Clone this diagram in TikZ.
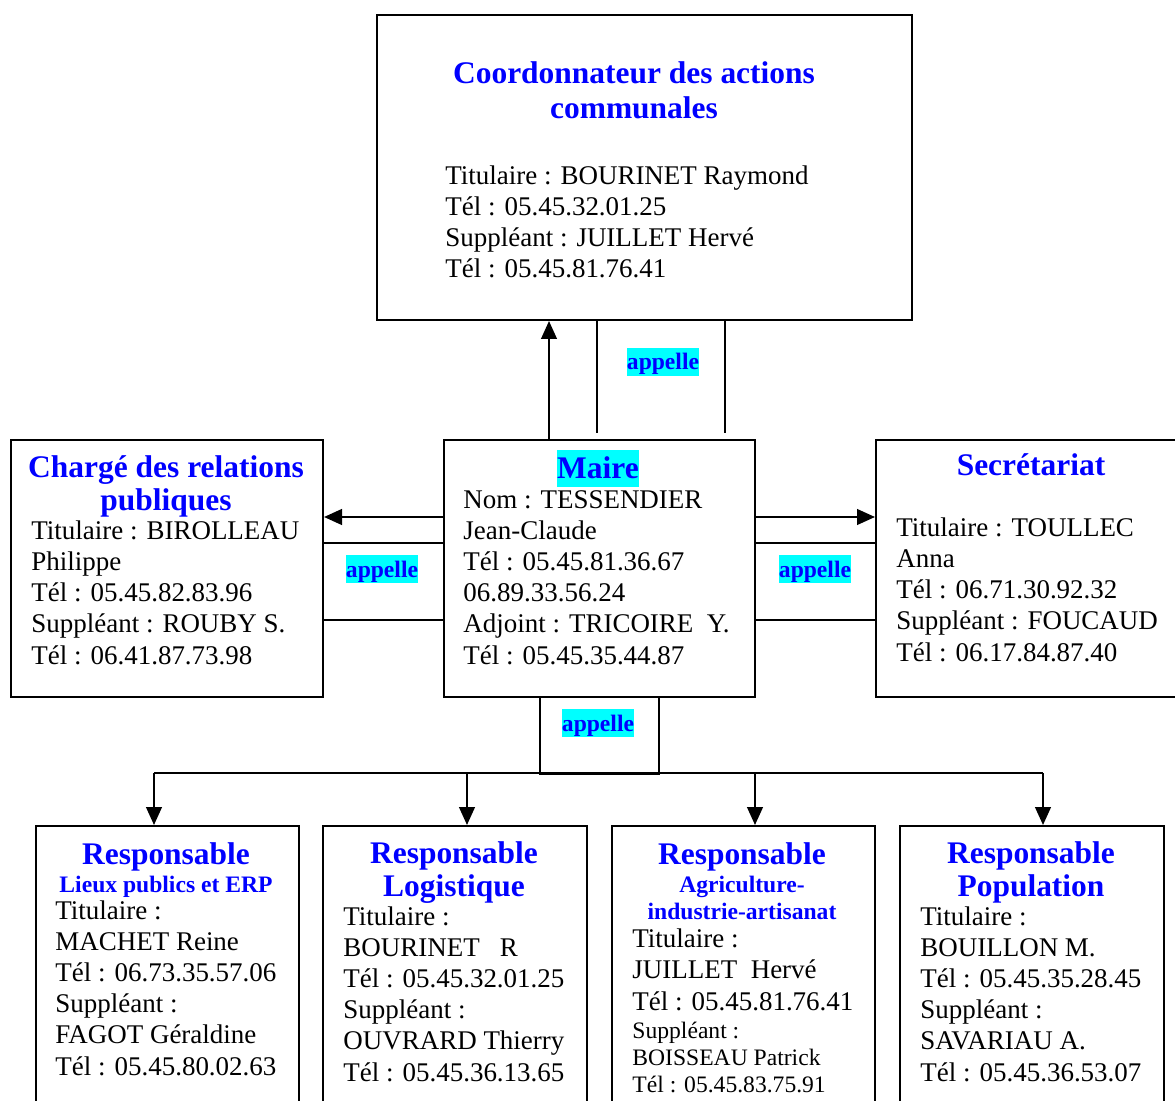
\documentclass[tikz,border=0pt]{standalone}
\usepackage{fontspec}
\setmainfont{Liberation Serif}
\usetikzlibrary{arrows.meta}
\definecolor{bleu}{RGB}{0,0,255}
\definecolor{surligne}{RGB}{0,255,255}
\def\px{0.445pt}
\tikzset{
  x=\px, y=-\px,
  cadre/.style={
    rectangle,
    draw=black,
    line width=0.9pt,
    anchor=north west,
    inner sep=0pt
  },
  titre/.style={anchor=base, align=center, inner sep=0pt, text=bleu,
    font=\fontsize{14}{16}\selectfont\bfseries},
  titreserre/.style={titre, font=\fontsize{14}{14.3}\selectfont\bfseries},
  soustitre/.style={titre, font=\fontsize{10.5}{12}\selectfont\bfseries},
  corps/.style={anchor=base west, align=left, inner sep=0pt,
    font=\fontsize{12}{13.8}\selectfont},
  petit/.style={corps, font=\fontsize{10.5}{12}\selectfont},
  appel/.style={anchor=base, inner sep=0pt, fill=surligne, text=bleu,
    text height=9.8pt, text depth=2.7pt, font=\fontsize{10.5}{12}\selectfont\bfseries},
  trait/.style={line width=0.7pt}
}
\tikzstyle{arrow} = [-{Triangle[length=8pt,width=7pt]}, line width=0.9pt]

\begin{document}
\begin{tikzpicture}
    \useasboundingbox (0,0) rectangle (1175,1101);
    \clip (0,0) rectangle (1175,1101);
    % boites
    \node[cadre, minimum width=535*\px, minimum height=305*\px] (coord) at (376,14) {};
    \node[cadre, minimum width=312*\px, minimum height=257*\px] (charge) at (10,439) {};
    \node[cadre, minimum width=311*\px, minimum height=257*\px] (maire) at (443,439) {};
    \node[cadre, minimum width=330*\px, minimum height=257*\px] (secr) at (875,439) {};
    \node[cadre, minimum width=121*\px, minimum height=77*\px] (appg) at (322,542) {};
    \node[cadre, minimum width=121*\px, minimum height=77*\px] (appd) at (754,542) {};
    \node[cadre, minimum width=119*\px, minimum height=77*\px] (appb) at (539,696) {};
    \node[cadre, minimum width=263*\px, minimum height=300*\px] (r1) at (35,825) {};
    \node[cadre, minimum width=264*\px, minimum height=300*\px] (r2) at (322,825) {};
    \node[cadre, minimum width=263*\px, minimum height=300*\px] (r3) at (611,825) {};
    \node[cadre, minimum width=264*\px, minimum height=300*\px] (r4) at (899,825) {};
    % textes (ancre sur la derniere ligne)
    \node[titre] (coordtitre) at (634,119) {Coordonnateur des actions\\communales};
    \node[corps] (coordtxt) at (445,278) {Titulaire : BOURINET Raymond\\Tél : 05.45.32.01.25\\Suppléant : JUILLET Hervé\\Tél : 05.45.81.76.41};
    \node[titre, fill=surligne, text height=12.3pt, text depth=3.9pt] (mairetitre) at (598,478) {Maire};
    \node[corps] (mairetxt) at (463,664) {Nom : TESSENDIER\\Jean-Claude\\Tél : 05.45.81.36.67\\06.89.33.56.24\\Adjoint : TRICOIRE\ \ Y.\\Tél : 05.45.35.44.87};
    \node[titre, font=\fontsize{14}{15.1}\selectfont\bfseries] (chargetitre) at (166,511) {Chargé des relations\\publiques};
    \node[corps] (chargetxt) at (31,664) {Titulaire : BIROLLEAU\\Philippe\\Tél : 05.45.82.83.96\\Suppléant : ROUBY S.\\Tél : 06.41.87.73.98};
    \node[titre] (secrtitre) at (1031,476) {Secrétariat};
    \node[corps] (secrtxt) at (896,661) {Titulaire : TOULLEC\\Anna\\Tél : 06.71.30.92.32\\Suppléant : FOUCAUD\\Tél : 06.17.84.87.40};
    \node[titre] (r1titre) at (166,864) {Responsable};
    \node[soustitre] (r1sous) at (166,892) {Lieux publics et ERP};
    \node[corps] (r1txt) at (55,1075) {Titulaire :\\MACHET Reine\\Tél : 06.73.35.57.06\\Suppléant :\\FAGOT Géraldine\\Tél : 05.45.80.02.63};
    \node[titreserre] (r2titre) at (454,896) {Responsable\\Logistique};
    \node[corps] (r2txt) at (343,1081) {Titulaire :\\BOURINET\ \ \ R\\Tél : 05.45.32.01.25\\Suppléant :\\OUVRARD Thierry\\Tél : 05.45.36.13.65};
    \node[titre] (r3titre) at (742,864) {Responsable};
    \node[soustitre] (r3sous) at (742,919) {Agriculture-\\industrie-artisanat};
    \node[corps] (r3txt) at (632,1010) {Titulaire :\\JUILLET\ \ Hervé\\Tél : 05.45.81.76.41};
    \node[petit] (r3suite) at (632,1092) {Suppléant :\\BOISSEAU Patrick\\Tél : 05.45.83.75.91};
    \node[titreserre] (r4titre) at (1031,896) {Responsable\\Population};
    \node[corps] (r4txt) at (920,1081) {Titulaire :\\BOUILLON M.\\Tél : 05.45.35.28.45\\Suppléant :\\SAVARIAU A.\\Tél : 05.45.36.53.07};
    \node[appel] (apph) at (663,370) {appelle};
    \node[appel] (applg) at (382,577) {appelle};
    \node[appel] (appld) at (815,577) {appelle};
    \node[appel] (applb) at (598,731) {appelle};
    % liaisons
    \coordinate (haut) at (549,0);
    \coordinate (l1) at (597,433);
    \coordinate (l2) at (725,433);
    \coordinate (hz) at (0,517);
    \draw[arrow] (haut |- maire.north) -- (haut |- coord.south);
    \draw[trait] (l1) -- (l1 |- coord.south);
    \draw[trait] (l2) -- (l2 |- coord.south);
    \draw[arrow] (maire.west |- hz) -- (charge.east |- hz);
    \draw[arrow] (maire.east |- hz) -- (secr.west |- hz);
    \coordinate (b1) at (154,773);
    \coordinate (b2) at (467,773);
    \coordinate (b3) at (755,773);
    \coordinate (b4) at (1043,773);
    \draw[line width=0.9pt] (b1) -- (b4);
    \foreach \b/\r in {b1/r1, b2/r2, b3/r3, b4/r4}
      \draw[arrow] (\b) -- (\b |- \r.north);
\end{tikzpicture}
\end{document}
